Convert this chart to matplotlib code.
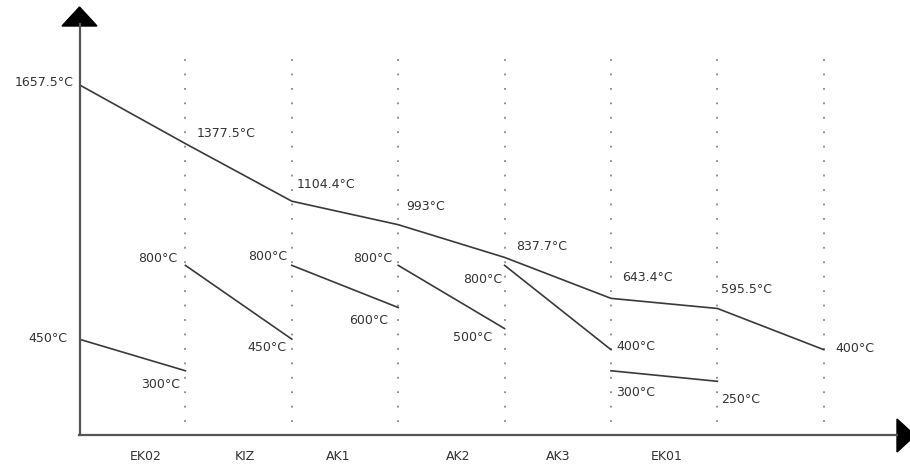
import matplotlib
matplotlib.use("Agg")
import matplotlib.pyplot as plt
from matplotlib.patches import Polygon
from matplotlib.transforms import Affine2D

# ---- data ----
stations = ["EK02", "KIZ", "AK1", "AK2", "AK3", "EK01"]
main_temps = [1657.5, 1377.5, 1104.4, 993, 837.7, 643.4, 595.5, 400]

# secondary segments: start column, start temperature, end temperature
seg_start_col = [0, 1, 2, 3, 4, 5]
seg_start_temp = [450, 800, 800, 800, 800, 300]
seg_end_temp = [300, 450, 600, 500, 400, 250]

# ---- label placement (pixel offsets from the point) ----
main_offsets = [(-5, 2, "right"), (11, 10, "left"), (5, 17, "left"), (8, 18, "left"),
                (12, 11, "left"), (11, 21, "left"), (4, 19, "left"), (12, 1, "left")]
seg_start_offsets = [(-12, 1, "right"), (-8, 7, "right"), (-5, 9, "right"),
                     (-6, 7, "right"), (-2, -14, "right"), (5, -22, "left")]
seg_end_offsets = [(-5, -14, "right"), (-5, -8, "right"), (-10, -13, "right"),
                   (-12, -9, "right"), (5, 3, "left"), (4, -18, "left")]
station_dx = [13, 6, -7, 7, 0, 2]

W, H = 910, 468
X0, Y0 = 79, 434          # pixel position of the origin
X_PX, Y_PX = 106.4, 0.2108  # pixels per column / per degree

LINE = "#3a3a3a"
TEXT = "#333333"
FS = 9


def fmt(v):
    return f"{v:g}°C"


fig = plt.figure(figsize=(W / 100, H / 100), dpi=100)
fig.patch.set_facecolor("white")
ax = fig.add_axes([X0 / W, (H - Y0) / H, (W - X0) / W, Y0 / H])
ax.set_xlim(0, (W - X0) / X_PX)
ax.set_ylim(0, Y0 / Y_PX)
ax.axis("off")

# pixel transform (origin top-left) for the axis decorations
pix = Affine2D().scale(1 / W, -1 / H).translate(0, 1) + fig.transFigure

# axes with arrow heads
fig.add_artist(plt.Line2D([X0, 897], [Y0 + 1, Y0 + 1], transform=pix, color="#555555", lw=1.6))
fig.add_artist(plt.Line2D([X0 + 0.5, X0 + 0.5], [Y0 + 1, 24], transform=pix, color="#555555", lw=1.6))
fig.add_artist(Polygon([(62, 26), (97, 26), (79.5, 7)], closed=True, transform=pix,
                       facecolor="black", edgecolor="black"))
fig.add_artist(Polygon([(897, 419), (897, 452), (915, 435.5)], closed=True, transform=pix,
                       facecolor="black", edgecolor="black"))

# dotted column separators
cols = list(range(len(main_temps)))
ax.vlines(cols[1:], 57, 1798, colors="#888888", linestyles=(0, (1, 7)), lw=1.3)

# main temperature line
ax.plot(cols, main_temps, color=LINE, lw=1.2)
for c, t, (dx, dy, ha) in zip(cols, main_temps, main_offsets):
    ax.annotate(fmt(t), xy=(c, t), xytext=(dx, dy), textcoords="offset pixels",
                ha=ha, va="center", fontsize=FS, color=TEXT, annotation_clip=False)

# secondary segments
for i, c in enumerate(seg_start_col):
    t0, t1 = seg_start_temp[i], seg_end_temp[i]
    ax.plot([c, c + 1], [t0, t1], color=LINE, lw=1.2)
    dx, dy, ha = seg_start_offsets[i]
    ax.annotate(fmt(t0), xy=(c, t0), xytext=(dx, dy), textcoords="offset pixels",
                ha=ha, va="center", fontsize=FS, color=TEXT, annotation_clip=False)
    dx, dy, ha = seg_end_offsets[i]
    ax.annotate(fmt(t1), xy=(c + 1, t1), xytext=(dx, dy), textcoords="offset pixels",
                ha=ha, va="center", fontsize=FS, color=TEXT, annotation_clip=False)

# station names below the axis
for i, name in enumerate(stations):
    ax.annotate(name, xy=(i + 0.5, 0), xytext=(station_dx[i], -23), textcoords="offset pixels",
                ha="center", va="center", fontsize=FS, color=TEXT, annotation_clip=False)

fig.savefig("out.png", dpi=100, facecolor="white")
